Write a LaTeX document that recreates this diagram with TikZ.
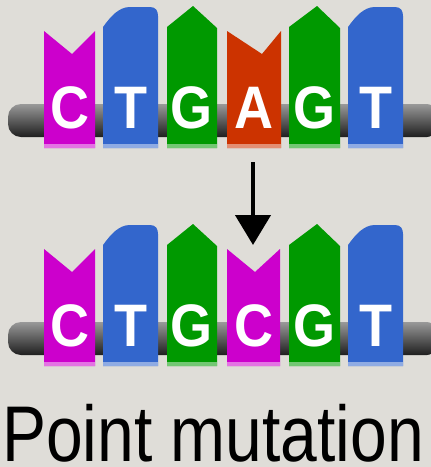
\documentclass[tikz,border=0pt]{standalone}
\usepackage{fontspec}
\setmainfont{Liberation Sans}
\newfontfamily\basefont[FakeStretch=0.9]{Liberation Sans Bold}
\newfontfamily\capfont[FakeStretch=0.835]{Liberation Sans}
\usetikzlibrary{arrows.meta}

\definecolor{paper}{HTML}{DFDDD8}
\definecolor{cytosine}{HTML}{CC00CC}
\definecolor{thymine}{HTML}{3366CC}
\definecolor{guanine}{HTML}{009900}
\definecolor{adenine}{HTML}{CC3300}

% one base block each: colour, left x, right x (and the notch/apex x)
\newcommand{\notchbase}[4]{%
  \fill[#1] (#2,148) -- (#2,31) -- (#4,54) -- (#3,31) -- (#3,148) -- cycle;
  \fill[#1!55!white] (#2,144) rectangle (#3,148);}
\newcommand{\domebase}[3]{%
  \fill[#1] (#2,148) -- (#2,27) .. controls (#2+8,16) and (#2+16,7) .. (#2+27,7)
    -- (#3-8,7) .. controls (#3-2,7) and (#3,11) .. (#3,16) -- (#3,148) -- cycle;
  \fill[#1!55!white] (#2,144) rectangle (#3,148);}
\newcommand{\peakbase}[4]{%
  \fill[#1] (#2,148) -- (#2,27) -- (#4,6) -- (#3,28) -- (#3,148) -- cycle;
  \fill[#1!55!white] (#2,144) rectangle (#3,148);}

\tikzset{
  basechar/.style={anchor=base, text=white, inner sep=0pt,
    font=\basefont\fontsize{60}{60}\selectfont},
  backbone/.style={top color=black!40, middle color=black!72,
    bottom color=black!88, rounded corners=13pt},
  mutarrow/.style={line width=4.5pt, -{Triangle[width=35pt,length=30pt]}},
}

\begin{document}
\begin{tikzpicture}[x=1pt, y=-1pt]
    \useasboundingbox[fill=paper] (0,0) rectangle (431,467);

    % original strand
    \shade[backbone] (8,104) rectangle (440,137);
    \notchbase{cytosine}{44}{95}{72}
    \domebase{thymine}{103}{158}
    \peakbase{guanine}{167}{217}{193}
    \notchbase{adenine}{227}{281}{262}
    \peakbase{guanine}{289}{340}{317}
    \domebase{thymine}{348}{403}
    \node[basechar] (t1) at (69.5,128) {C};
    \node[basechar] (t2) at (130.5,128) {T};
    \node[basechar] (t3) at (192,128) {G};
    \node[basechar] (t4) at (254,128) {A};
    \node[basechar] (t5) at (314.5,128) {G};
    \node[basechar] (t6) at (375.5,128) {T};

    % substitution A -> C
    \coordinate (from) at (253,162);
    \coordinate (to) at (253,245);
    \draw[mutarrow] (from) -- (to);

    % mutated strand
    \begin{scope}[yshift=-218pt]
        \shade[backbone] (8,104) rectangle (440,137);
        \notchbase{cytosine}{44}{95}{72}
        \domebase{thymine}{103}{158}
        \peakbase{guanine}{167}{217}{193}
        \notchbase{cytosine}{227}{280}{255}
        \peakbase{guanine}{289}{340}{317}
        \domebase{thymine}{348}{403}
        \node[basechar] (b1) at (69.5,128) {C};
        \node[basechar] (b2) at (130.5,128) {T};
        \node[basechar] (b3) at (192,128) {G};
        \node[basechar] (b4) at (254,128) {C};
        \node[basechar] (b5) at (314.5,128) {G};
        \node[basechar] (b6) at (375.5,128) {T};
    \end{scope}

    \node[anchor=base west, inner sep=0pt, font=\capfont\fontsize{79}{79}\selectfont]
        (title) at (2,461) {Point mutation};
\end{tikzpicture}
\end{document}
